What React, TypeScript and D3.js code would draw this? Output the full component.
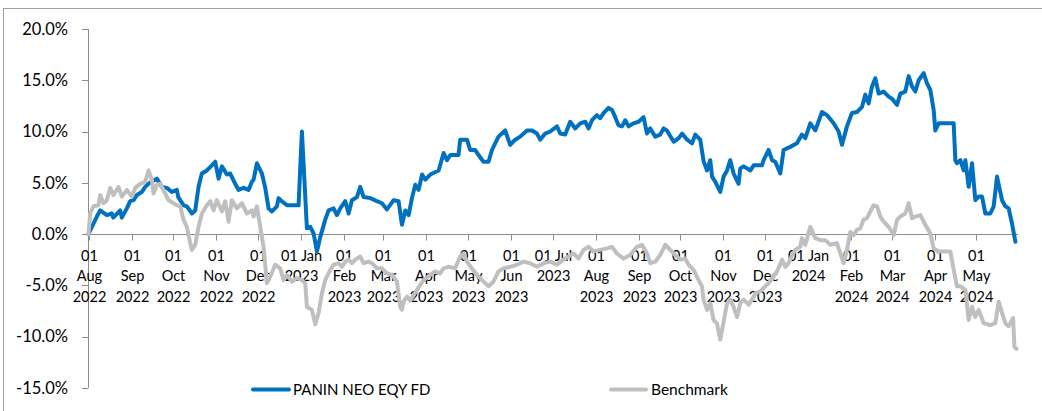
import React from "react";
import * as d3 from "d3";

// Day offset from 01 Aug 2022, cumulative return (%)
const fundSeries: [number, number][] = [
  [0,0],[6,1.7],[8.4,2.3],[13.2,1.85],[16.8,2.0],[17.8,1.6],[22.8,2.3],[24,1.6],[27.6,2.5],[30,3.2],[32.4,3.3],[34.8,3.8],[38.4,4.1],[40.8,4.6],[43.2,4.9],[45.6,5.1],[49.2,5.4],[52.8,4.6],[56.4,4.5],[60,4.1],[63.6,4.3],[64.6,3.6],[68.4,2.8],[70.8,2.7],[74.4,2.0],[76.8,2.3],[79.2,4.6],[81.6,5.9],[85.2,6.2],[88.8,6.7],[91.2,7.05],[93.6,5.4],[96,6.6],[99.6,5.8],[102,5.9],[105.6,4.9],[108,4.3],[111.6,4.5],[115.2,4.3],[117.6,5.1],[118.8,5.3],[121.2,6.9],[124.8,5.9],[127.2,4.5],[129.6,2.5],[132,2.2],[135.6,2.7],[136.8,3.5],[139.2,3.2],[142.8,2.8],[151.2,2.8],[153.6,10.0],[157.2,0.55],[159.6,0.7],[162,0.05],[164.4,-1.7],[166.8,-0.3],[170.4,1.4],[172.8,2.3],[176.4,2.5],[178.8,1.85],[181.2,2.5],[184.8,3.2],[187.2,2.0],[189.6,3.3],[193.2,3.6],[195.6,4.6],[198,3.6],[202.8,3.5],[207.6,3.2],[211.2,3.0],[214.8,2.4],[219.6,3.3],[223.2,3.2],[225.6,0.9],[228,2.3],[230.4,1.85],[232.8,3.5],[235.2,4.8],[237.6,4.3],[240.1,5.8],[242.4,5.3],[246,5.8],[252,6.2],[255.6,7.9],[258,7.2],[260.4,7.7],[266.3,7.7],[267.5,9.2],[272.4,9.2],[274.7,8.2],[278.3,8.2],[280.7,7.7],[284.3,7.05],[287.9,7.05],[290.4,8.2],[295.1,9.5],[299.9,10.1],[303.5,8.7],[307.1,9.2],[310.7,9.5],[315.6,10.1],[319.2,10.1],[322.8,9.8],[325.1,9.2],[328.7,9.8],[332.3,10.0],[337.2,10.5],[339.5,9.8],[343.1,9.7],[346.7,10.95],[350.3,10.3],[353.9,10.8],[357.5,10.95],[359.9,10.3],[362.4,11.1],[365.9,11.6],[368.3,11.3],[370.7,11.8],[374.3,12.3],[376.8,12.1],[379.1,11.4],[381.5,10.6],[384,10.5],[386.3,11.1],[388.7,10.5],[392.3,10.8],[395.9,10.95],[399.5,11.4],[402,9.8],[404.3,10.3],[407.9,9.5],[411.5,9.7],[413.9,10.3],[416.3,10.1],[421.2,9.0],[424.8,9.35],[427.2,9.8],[430.8,9.2],[434.4,8.85],[436.7,9.7],[440.3,9.2],[442.7,7.1],[445.2,6.2],[447.5,7.2],[448.8,5.6],[451.1,5.1],[454.7,4.1],[457.1,5.6],[459.6,6.2],[461.9,7.2],[464.3,5.9],[467.9,4.9],[469.1,6.4],[471.5,6.6],[476.4,6.2],[478.7,6.7],[484.7,6.7],[485.9,7.2],[489.5,8.2],[492,7.2],[494.3,7.05],[497.9,5.9],[500.3,8.2],[505.1,8.5],[509.9,8.85],[513.5,9.7],[515.9,9.35],[519.5,10.8],[523.1,10.1],[527.9,11.9],[531.5,11.6],[536.3,10.8],[539.9,10.0],[542.3,8.7],[545.9,10.5],[549.5,11.8],[553.1,11.9],[556.7,12.4],[559.1,13.6],[561.5,12.75],[563.9,14.4],[566.3,15.2],[568.7,13.7],[572.3,13.9],[575.9,13.4],[578.3,13.2],[581.9,12.6],[584.3,13.7],[587.9,13.9],[590.3,15.4],[592.7,14.4],[595.1,13.9],[597.5,15.0],[601.1,15.7],[603.5,14.7],[605.9,14.05],[608.3,12.1],[609.5,10.1],[611.9,10.8],[622.7,10.8],[623.9,7.2],[625.1,6.9],[627.5,7.2],[629.9,6.2],[631.1,7.2],[633.5,4.6],[635.9,6.9],[638.3,3.3],[640.7,3.65],[643.1,3.65],[645.5,2.0],[649.1,2.0],[651.5,2.7],[653.9,5.6],[657.5,3.3],[659.9,2.7],[662.3,2.5],[664.7,1.0],[667.1,-0.75]
];

const benchSeries: [number, number][] = [
  [0,0],[1.2,2.0],[3.6,2.7],[7.2,2.8],[8.4,3.8],[10.8,3.0],[13.2,3.3],[15.6,4.5],[18,3.8],[21.6,4.6],[24,3.65],[27.6,4.3],[31.2,3.65],[33.6,4.5],[37.2,4.9],[40.8,5.1],[43.2,6.2],[45.6,5.3],[46.8,3.95],[49.2,4.8],[51.6,4.9],[55.2,3.95],[57.6,3.3],[61.2,3.0],[63.6,2.8],[66,2.7],[68.4,1.4],[70.8,0.7],[73.2,-0.9],[74.4,-1.55],[76.8,-1.05],[79.2,0.7],[81.6,2.0],[85.2,2.8],[87.6,3.2],[90,2.3],[92.4,3.3],[96,2.2],[98.4,3.2],[100.8,1.2],[103.2,3.3],[106.8,2.5],[110.4,3.0],[114,2.0],[117.6,2.3],[118.8,1.7],[121.2,2.7],[123.6,0.7],[126,-1.25],[128.4,-4.8],[130.8,-4.15],[134.4,-3.0],[138,-3.35],[140.4,-4.5],[142.8,-4.0],[146.4,-4.65],[150,-4.3],[153.6,-4.5],[156,-4.8],[157.2,-7.1],[160.8,-7.4],[163.2,-8.8],[165.6,-7.7],[168,-5.8],[170.4,-4.5],[174,-3.5],[176.4,-3.0],[180,-2.85],[182.4,-3.2],[184.8,-2.7],[187.2,-2.5],[189.6,-2.85],[192,-2.5],[195.6,-2.2],[198,-2.85],[201.5,-2.7],[204,-2.85],[207.6,-3.35],[211.2,-3.35],[214.8,-3.85],[218.4,-4.0],[222,-4.65],[224.4,-7.1],[225.6,-7.4],[226.8,-6.6],[229.2,-6.1],[231.6,-6.5],[234,-5.95],[236.4,-5.45],[241.1,-4.5],[245.9,-4.0],[249.5,-3.65],[253.1,-3.85],[255.5,-3.35],[259.1,-3.2],[263.9,-3.35],[267.5,-2.2],[269.9,-1.9],[272.4,-2.7],[275.9,-3.35],[279.6,-4.0],[283.2,-4.5],[287.9,-5.1],[291.5,-4.65],[295.1,-3.65],[298.7,-3.35],[303.5,-3.2],[308.4,-3.0],[313.1,-2.7],[317.9,-2.85],[322.8,-3.2],[327.5,-2.85],[332.3,-2.7],[337.2,-3.0],[341.9,-2.5],[345.5,-2.2],[349.1,-1.9],[352.7,-2.4],[356.3,-1.55],[359.9,-1.25],[363.5,-1.7],[368.3,-1.55],[373.1,-1.4],[376.8,-1.25],[380.3,-1.9],[385.1,-2.4],[389.9,-2.05],[394.7,-1.25],[398.3,-1.05],[402,-1.9],[404.3,-2.85],[407.9,-2.7],[411.5,-2.05],[415.1,-1.05],[418.7,-1.55],[422.3,-2.05],[425.9,-2.5],[429.5,-2.4],[431.9,-3.0],[435.5,-3.5],[439.1,-4.5],[441.5,-5.1],[442.7,-6.4],[445.2,-7.4],[447.5,-6.75],[449.9,-8.4],[452.3,-8.7],[454.7,-10.3],[457.1,-8.6],[459.6,-6.75],[461.9,-6.4],[464.3,-7.1],[466.8,-8.1],[469.1,-6.75],[471.5,-6.4],[475.1,-6.9],[477.6,-6.4],[480,-5.8],[483.5,-5.6],[487.1,-5.1],[489.5,-4.8],[493.1,-4.15],[495.6,-3.65],[499.2,-2.5],[501.5,-3.2],[503.9,-2.85],[506.4,-2.05],[508.7,-1.55],[512.3,-1.25],[513.5,-0.4],[515.9,-1.05],[519.5,0.7],[523.1,-0.4],[526.7,-0.6],[530.3,-0.6],[533.9,-1.05],[538.7,-0.9],[541.1,-1.9],[543.5,-2.85],[545.9,-1.55],[548.3,0.2],[550.7,-0.1],[553.1,0.4],[555.5,0.55],[557.9,1.4],[560.3,1.55],[562.7,2.2],[565.1,2.8],[567.6,2.7],[569.9,1.7],[572.3,1.2],[575.9,0.7],[579.5,-0.1],[582,1.4],[584.3,1.7],[587.9,2.0],[590.3,3.0],[592.7,1.55],[595.1,1.7],[598.7,1.85],[602.3,0.9],[605.9,0.05],[608.3,-1.4],[611.9,-1.7],[620.3,-1.7],[622.7,-3.5],[625.1,-5.1],[627.5,-5.1],[631.1,-5.45],[633.5,-8.4],[635.9,-7.1],[638.3,-8.1],[640.7,-7.4],[644.3,-8.7],[649.1,-8.9],[652.7,-8.7],[655.1,-6.6],[657.5,-7.7],[659.9,-8.7],[662.3,-9.0],[665.5,-8.2],[666.4,-11.0],[667.9,-11.2]
];

const yTicks = [-15, -10, -5, 0, 5, 10, 15, 20];

const xTickLabels = [
  "01|Aug|2022", "01|Sep|2022", "01|Oct|2022", "01|Nov|2022", "01|Dec|2022",
  "01 Jan|2023", "01|Feb|2023", "01|Mar|2023", "01|Apr|2023", "01|May|2023",
  "01|Jun|2023", "01 Jul|2023", "01|Aug|2023", "01|Sep|2023", "01|Oct|2023",
  "01|Nov|2023", "01|Dec|2023", "01 Jan|2024", "01|Feb|2024", "01|Mar|2024",
  "01|Apr|2024", "01|May|2024"
];

const seriesNames = ["PANIN NEO EQY FD", "Benchmark"];
const seriesColors = ["#0070C0", "#BFBFBF"];

const START = new Date(2022, 7, 1);
const END = new Date(2024, 4, 31);
const DAY = 86400000;

export default function App() {
  const W = 1042, H = 411;
  const x = d3.scaleTime().domain([START, END]).range([88.5, 1018]);
  const y = d3.scaleLinear().domain([-15, 20]).range([387.75, 29]);
  const toDate = (d: number) => new Date(START.getTime() + d * DAY);
  const line = d3
    .line<[number, number]>()
    .x((p) => x(toDate(p[0])))
    .y((p) => y(p[1]));
  const tickDates = d3.timeMonth.range(START, new Date(2024, 5, 1));
  const font = "Lato, 'Open Sans', sans-serif";
  const axisColor = "#8c8c8c";
  const textColor = "#000";
  const y0 = y(0);

  return (
    <svg
      width={W}
      height={H}
      style={{ position: "absolute", left: 0, top: 0, background: "#fff" }}
      fontFamily={font}
    >
      <rect x={3.5} y={8.5} width={1100} height={500} fill="#fff" stroke="#a0a0a0" strokeWidth={1} />
      {/* Y axis */}
      <line x1={88.5} x2={88.5} y1={y(20)} y2={y(-15)} stroke={axisColor} strokeWidth={1} />
      {yTicks.map((t) => (
        <g key={t}>
          <line x1={82} x2={88.5} y1={Math.round(y(t)) + 0.5} y2={Math.round(y(t)) + 0.5} stroke={axisColor} />
          <text x={68} y={y(t)} dy="0.36em" textAnchor="end" fontSize={16.5} fill={textColor}>
            {t.toFixed(1) + "%"}
          </text>
        </g>
      ))}
      {/* X axis */}
      <line x1={88.5} x2={1018} y1={Math.round(y0) + 0.5} y2={Math.round(y0) + 0.5} stroke={axisColor} />
      {tickDates.map((d, i) => {
        const xx = Math.round(x(d)) + 0.5;
        const lines = xTickLabels[i].split("|");
        return (
          <g key={i}>
            <line x1={xx} x2={xx} y1={Math.round(y0) + 0.5} y2={Math.round(y0) + 6.5} stroke={axisColor} />
            {lines.map((s, j) => (
              <text key={j} x={xx} y={260.5 + j * 20.5} textAnchor="middle" fontSize={14.5} fill={textColor}>
                {s}
              </text>
            ))}
          </g>
        );
      })}
      {/* Series */}
      <path d={line(fundSeries) || ""} fill="none" stroke={seriesColors[0]} strokeWidth={4} strokeLinejoin="round" strokeLinecap="round" />
      <path d={line(benchSeries) || ""} fill="none" stroke={seriesColors[1]} strokeWidth={4} strokeLinejoin="round" strokeLinecap="round" />
      {/* Legend */}
      <line x1={253} x2={289} y1={389.5} y2={389.5} stroke={seriesColors[0]} strokeWidth={4} strokeLinecap="round" />
      <text x={293} y={389.5} dy="0.36em" fontSize={15} fill={textColor}>{seriesNames[0]}</text>
      <line x1={611} x2={646} y1={389.5} y2={389.5} stroke={seriesColors[1]} strokeWidth={4} strokeLinecap="round" />
      <text x={651} y={389.5} dy="0.36em" fontSize={15.5} fill={textColor}>{seriesNames[1]}</text>
    </svg>
  );
}
